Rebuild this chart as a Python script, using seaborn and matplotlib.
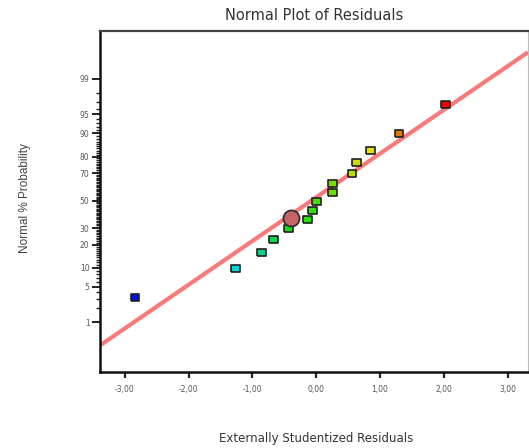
from statistics import NormalDist

import matplotlib
matplotlib.use("Agg")
import matplotlib.pyplot as plt
from matplotlib.ticker import FixedLocator, FuncFormatter
import numpy as np
import pandas as pd
import seaborn as sns

# ------------------------------------------------
# ----- Datos ------------------------------------
# ------------------------------------------------
residuals = [-2.84, -1.27, -0.86, -0.67, -0.44, -0.14, -0.06, 0.01,
             0.26, 0.26, 0.56, 0.63, 0.85, 1.30, 2.03]
probability = [3.2, 9.7, 16.2, 22.7, 29.5, 36.1, 42.7, 49.2,
               56.1, 62.5, 69.5, 76.6, 83.0, 89.9, 96.6]
point_colors = ["#0010e8", "#00d8d8", "#10d08a", "#10d050", "#10e010",
                "#28e000", "#30e000", "#44e000", "#66e000", "#74e000",
                "#bce000", "#cadc00", "#e4e000", "#e07a00", "#f00000"]

# punto resaltado (circulo)
highlight_residual = [-0.40]
highlight_probability = [37.3]

# linea de referencia en escala normal: z = intercepto + pendiente * x
line_intercept = 0.063
line_slope = 0.834

y_major = [1, 5, 10, 20, 30, 50, 70, 80, 90, 95, 99]
y_minor = [v for v in range(2, 99) if v not in y_major]
x_major = [-3, -2, -1, 0, 1, 2, 3]

xlim = (-3.39, 3.32)
ylim = (0.054, 99.94)

# ------------------------------------------------
# ----- Escala de probabilidad normal ------------
# ------------------------------------------------
nd = NormalDist()


def to_z(p):
    p = np.asarray(p, dtype=float)
    res = np.full(p.size, np.nan)
    for i, v in enumerate(p.ravel()):
        if np.isfinite(v):
            v = min(max(v / 100.0, 1e-12), 1 - 1e-12)
            res[i] = nd.inv_cdf(v)
    return res.reshape(p.shape)


def from_z(z):
    z = np.asarray(z, dtype=float)
    res = np.array([nd.cdf(v) * 100.0 if np.isfinite(v) else np.nan
                    for v in z.ravel()])
    return res.reshape(z.shape)


sns.set_theme(style="white")
plt.rcParams["font.family"] = ["DejaVu Sans"]

df = pd.DataFrame({"residual": residuals, "prob": probability,
                   "run": [str(i) for i in range(len(residuals))]})
palette = dict(zip(df["run"], point_colors))

fig = plt.figure(figsize=(5.29, 4.48), dpi=100)
ax = fig.add_axes([0.189, 0.170, 0.809, 0.761])
ax.set_yscale("function", functions=(to_z, from_z))

# linea de ajuste (en coordenadas de probabilidad)
xs = np.array(xlim)
ax.plot(xs, from_z(line_intercept + line_slope * xs), color="#f87a7a",
        lw=3.0, solid_capstyle="butt", zorder=1)

rect = [(-1.25, -1), (1.25, -1), (1.25, 1), (-1.25, 1), (-1.25, -1)]
sns.scatterplot(data=df, x="residual", y="prob", hue="run", palette=palette,
                marker=rect, s=40, edgecolor="#202020", linewidth=1.2,
                legend=False, ax=ax, zorder=3)
sns.scatterplot(x=highlight_residual, y=highlight_probability, marker="o",
                s=135, color="#c46464", edgecolor="#303030", linewidth=1.3,
                legend=False, ax=ax, zorder=4)

ax.set_xlim(*xlim)
ax.set_ylim(*ylim)

ax.xaxis.set_major_locator(FixedLocator(x_major))
ax.xaxis.set_major_formatter(FuncFormatter(lambda v, pos: f"{v:.2f}".replace(".", ",")))
ax.yaxis.set_major_locator(FixedLocator(y_major))
ax.yaxis.set_minor_locator(FixedLocator(y_minor))
ax.yaxis.set_major_formatter(FuncFormatter(lambda v, pos: f"{v:g}"))

ax.tick_params(axis="x", which="major", bottom=True, length=4.5, width=1.6,
               color="#222222", labelsize=5.5, labelcolor="#555555", pad=5)
ax.tick_params(axis="y", which="major", left=True, length=5.5, width=1.4,
               color="#222222", labelsize=5.5, labelcolor="#555555", pad=2)
ax.tick_params(axis="y", which="minor", left=True, length=3, width=1.0,
               color="#222222")

for side in ["left", "bottom"]:
    ax.spines[side].set_color("#111111")
    ax.spines[side].set_linewidth(1.8)
ax.spines["top"].set_color("#444444")
ax.spines["top"].set_linewidth(1.6)
ax.spines["right"].set_color("#bbbbbb")
ax.spines["right"].set_linewidth(0.8)
ax.set_xlabel("")
ax.set_ylabel("")

ax.set_title("Normal Plot of Residuals", fontsize=10.5, color="#333333", pad=8)
fig.text(316 / 529, 1 - 438 / 448, "Externally Studentized Residuals",
         fontsize=8.5, color="#333333", ha="center", va="center")
fig.text(25 / 529, 1 - 198 / 448, "Normal % Probability", rotation=90,
         fontsize=8.5, color="#444444", ha="center", va="center",
         family=["Liberation Sans", "DejaVu Sans"])

fig.savefig("out.png", dpi=100, facecolor="white")
